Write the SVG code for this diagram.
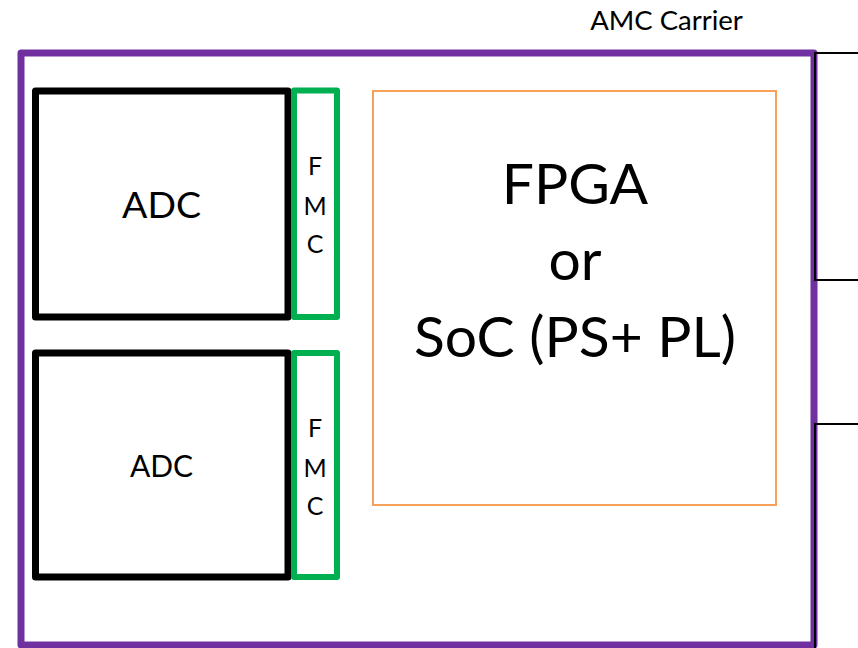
<svg xmlns="http://www.w3.org/2000/svg" width="858" height="648" viewBox="0 0 858 648">
<style>
.carrier{fill:none;stroke:#7030A0;stroke-width:7;stroke-linejoin:round}
.adc{fill:none;stroke:#000;stroke-width:7;stroke-linejoin:round}
.fmc{fill:none;stroke:#00B050;stroke-width:6;stroke-linejoin:round}
.fpga{fill:none;stroke:#F6A05A;stroke-width:2}
.conn{fill:none;stroke:#000;stroke-width:2}
text{font-family:Lato,"Open Sans","Liberation Sans",sans-serif;fill:#000;text-anchor:middle}
</style>
<g id="carrier">
<rect class="carrier" x="21" y="53" width="793" height="592"/>
<text x="666.5" y="30" font-size="27.5">AMC Carrier</text>
</g>
<g id="connectors">
<path class="conn" d="M858 53H815V280H858M858 424H815V648"/>
</g>
<g id="adc1">
<rect class="adc" x="35.5" y="91" width="252.5" height="226"/>
<text x="161.5" y="218" font-size="37.5">ADC</text>
</g>
<g id="fmc1">
<rect class="fmc" x="294" y="90.5" width="43" height="226.5"/>
<text x="315" y="175" font-size="25">F</text>
<text x="315" y="215" font-size="25">M</text>
<text x="315" y="253" font-size="25">C</text>
</g>
<g id="adc2">
<rect class="adc" x="35.5" y="353" width="252.5" height="224"/>
<text x="161.5" y="477" font-size="30">ADC</text>
</g>
<g id="fmc2">
<rect class="fmc" x="294" y="353" width="43" height="224"/>
<text x="315" y="437" font-size="25">F</text>
<text x="315" y="477" font-size="25">M</text>
<text x="315" y="515" font-size="25">C</text>
</g>
<g id="fpga">
<rect class="fpga" x="373" y="91" width="403" height="414"/>
<text x="575" y="204" font-size="57">FPGA</text>
<text x="575" y="280" font-size="57">or</text>
<text x="575" y="357" font-size="57">SoC (PS+ PL)</text>
</g>
</svg>
